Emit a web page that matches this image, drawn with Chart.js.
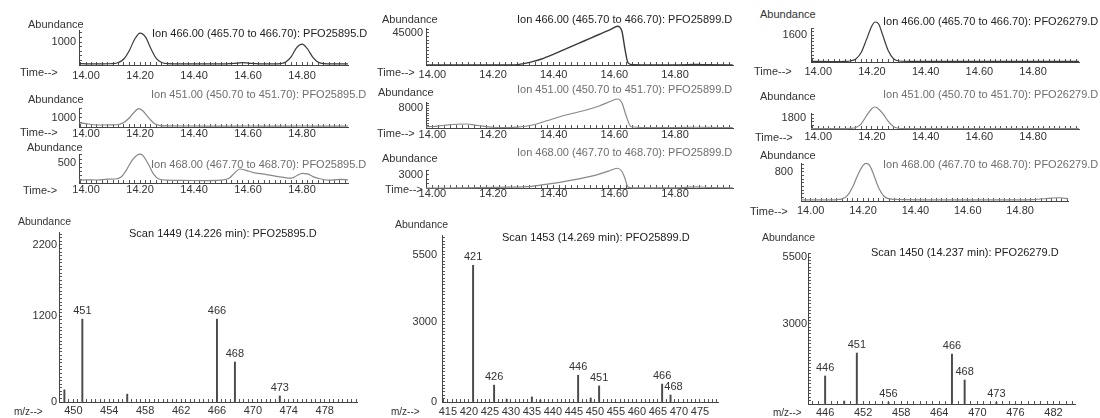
<!DOCTYPE html>
<html>
<head>
<meta charset="utf-8">
<script src="https://cdn.jsdelivr.net/npm/chart.js@4.4.0/dist/chart.umd.min.js"></script>
<style>
  body { margin: 0; background: #fff; width: 1100px; height: 418px; overflow: hidden; position: relative;
         font-family: "Liberation Sans", Arial, Helvetica, sans-serif; }
  canvas { position: absolute; }
  .lbl { position: absolute; white-space: nowrap; line-height: 1; font-size: 11px; color: #333; z-index: 2; }
</style>
</head>
<body>
<script>
// ---- data ----
const timeTicks = [14.00, 14.20, 14.40, 14.60, 14.80];

// PFO25895.D
const tA466 = [13.975, 14.00, 14.04, 14.08, 14.10, 14.12, 14.14, 14.16, 14.18, 14.20, 14.22, 14.24, 14.26, 14.28, 14.30, 14.36, 14.44, 14.52, 14.56, 14.58, 14.60, 14.64, 14.70, 14.72, 14.74, 14.76, 14.78, 14.80, 14.82, 14.84, 14.86, 14.88, 14.92, 14.97];
const yA466 = [60, 50, 45, 55, 60, 110, 260, 620, 1120, 1390, 1220, 720, 290, 110, 60, 50, 45, 50, 80, 100, 85, 50, 45, 60, 130, 360, 760, 910, 700, 330, 120, 60, 50, 45];
const tA451 = [13.975, 14.00, 14.02, 14.06, 14.10, 14.12, 14.14, 14.16, 14.18, 14.195, 14.21, 14.23, 14.25, 14.27, 14.30, 14.40, 14.50, 14.60, 14.70, 14.80, 14.90, 14.97];
const yA451 = [450, 380, 280, 220, 230, 280, 500, 1000, 1700, 2050, 1800, 1100, 450, 180, 120, 110, 100, 110, 100, 110, 100, 110];
const tA468 = [13.975, 14.00, 14.04, 14.08, 14.11, 14.13, 14.15, 14.17, 14.19, 14.20, 14.21, 14.23, 14.25, 14.27, 14.30, 14.36, 14.44, 14.50, 14.53, 14.55, 14.57, 14.59, 14.62, 14.66, 14.70, 14.74, 14.76, 14.78, 14.80, 14.82, 14.84, 14.87, 14.90, 14.94, 14.97];
const yA468 = [70, 80, 75, 95, 100, 150, 330, 560, 700, 720, 690, 480, 220, 100, 70, 65, 60, 70, 120, 250, 350, 320, 260, 220, 170, 130, 120, 180, 240, 230, 160, 100, 70, 90, 80];

// PFO25899.D
const tB466 = [13.979, 14.05, 14.10, 14.15, 14.20, 14.26, 14.28, 14.30, 14.33, 14.36, 14.40, 14.44, 14.48, 14.52, 14.56, 14.59, 14.61, 14.625, 14.635, 14.645, 14.66, 14.70, 14.80, 14.86, 14.88, 14.90, 14.99];
const yB466 = [0, 0, 100, 0, 100, 100, 400, 2000, 4800, 8400, 15200, 22600, 30000, 37500, 44900, 50500, 54500, 47000, 22000, 3000, 300, 100, 100, 600, 800, 300, 100];
const tB451 = [13.979, 14.00, 14.04, 14.08, 14.11, 14.15, 14.20, 14.25, 14.28, 14.33, 14.38, 14.42, 14.46, 14.51, 14.55, 14.59, 14.61, 14.625, 14.638, 14.655, 14.70, 14.80, 14.87, 14.95, 14.99];
const yB451 = [500, 600, 1100, 1500, 1600, 1000, 300, 200, 350, 1200, 3000, 4500, 5800, 7300, 8800, 10800, 11600, 10000, 5200, 500, 200, 200, 300, 200, 200];
const tB468 = [13.979, 14.05, 14.10, 14.15, 14.20, 14.25, 14.31, 14.36, 14.42, 14.46, 14.51, 14.55, 14.58, 14.61, 14.625, 14.635, 14.645, 14.66, 14.72, 14.80, 14.87, 14.92, 14.99];
const yB468 = [0, 0, 50, 100, 150, 200, 300, 700, 1300, 1800, 2500, 3200, 3900, 4550, 3800, 2200, 200, 50, 50, 50, 250, 100, 50];

// PFO26279.D
const tC466 = [13.973, 14.05, 14.10, 14.12, 14.14, 14.16, 14.18, 14.20, 14.212, 14.225, 14.24, 14.26, 14.28, 14.30, 14.35, 14.50, 14.70, 14.90, 14.971];
const yC466 = [40, 30, 40, 60, 180, 560, 1350, 2150, 2370, 2250, 1600, 700, 200, 60, 40, 35, 40, 35, 40];
const tC451 = [13.973, 14.05, 14.10, 14.12, 14.14, 14.16, 14.18, 14.20, 14.21, 14.22, 14.24, 14.26, 14.28, 14.30, 14.35, 14.50, 14.70, 14.90, 14.971];
const yC451 = [50, 50, 60, 90, 250, 850, 2200, 3350, 3600, 3450, 2550, 1300, 420, 120, 60, 50, 50, 60, 50];
const tC468 = [13.963, 14.05, 14.10, 14.12, 14.14, 14.16, 14.18, 14.20, 14.212, 14.225, 14.24, 14.26, 14.28, 14.30, 14.35, 14.50, 14.70, 14.85, 14.92, 14.95, 14.983];
const yC468 = [30, 30, 40, 60, 150, 380, 720, 980, 1040, 980, 740, 360, 130, 60, 40, 30, 30, 40, 80, 90, 60];

// mass spectra
const mzA = [449, 451, 456, 466, 468, 473];
const abA = [170, 1160, 110, 1160, 560, 85];
const peakLabA = [451, 466, 468, 473];
const mzTicksA = [450, 454, 458, 462, 466, 470, 474, 478];
const abTicksA = [0, 1200, 2200];

const mzB = [421, 426, 429, 435, 437, 446, 449, 451, 466, 468];
const abB = [5100, 630, 110, 190, 75, 1000, 150, 600, 670, 260];
const peakLabB = [421, 426, 446, 451, 466, 468];
const mzTicksB = [415, 420, 425, 430, 435, 440, 445, 450, 455, 460, 465, 470, 475];
const abTicksB = [0, 3000, 5500];

const mzC = [446, 449, 451, 456, 466, 468, 473];
const abC = [1050, 110, 1910, 60, 1870, 900, 60];
const peakLabC = [446, 451, 456, 466, 468, 473];
const mzTicksC = [446, 452, 458, 464, 470, 476, 482];
const abTicksC = [3000, 5500];

// ---- helpers ----
Chart.defaults.font.family = "'Liberation Sans', Arial, Helvetica, sans-serif";
Chart.defaults.font.size = 11;
Chart.defaults.color = '#333';

const DARK = '#222', GREY = '#6e6e6e';

function txt(x, cy, s, color, size) {
  const d = document.createElement('div');
  d.className = 'lbl';
  d.textContent = s;
  const fs = size || 11;
  d.style.fontSize = fs + 'px';
  d.style.left = x + 'px';
  d.style.top = (cy - fs / 2) + 'px';
  if (color) d.style.color = color;
  document.body.appendChild(d);
}

function isMajor(v, list) {
  return list.some(m => Math.abs(m - v) < 1e-6);
}

function ticksFrom(min, max, step, majors) {
  const out = [];
  const k0 = Math.ceil(min / step - 1e-9), k1 = Math.floor(max / step + 1e-9);
  for (let k = k0; k <= k1; k++) out.push(+(k * step).toFixed(6));
  majors.forEach(m => { if (m >= min && m <= max && !isMajor(m, out)) out.push(m); });
  return out.sort((a, b) => a - b);
}

const W = 50, H = 24, PT = 8, PR = 8;

function makeCanvas(box) {
  const cv = document.createElement('canvas');
  const w = box.ae - box.ax + W + PR, h = box.base - box.top + PT + H;
  cv.width = w; cv.height = h;
  cv.style.left = (box.ax - W) + 'px';
  cv.style.top = (box.top - PT) + 'px';
  cv.style.width = w + 'px'; cv.style.height = h + 'px';
  document.body.appendChild(cv);
  return cv;
}

function axisX(min, max, step, majors, pad, fmt) {
  return {
    type: 'linear', min: min, max: max, bounds: 'data', offset: false,
    grid: { drawOnChartArea: false, drawTicks: true, tickLength: -3, tickColor: '#555', tickWidth: 1, offset: false },
    border: { display: true, color: '#444', width: 1 },
    ticks: { autoSkip: false, maxRotation: 0, minRotation: 0, padding: pad, color: '#333',
             callback: v => isMajor(v, majors) ? fmt(v) : '' },
    afterBuildTicks: s => { s.ticks = ticksFrom(min, max, step, majors).map(value => ({ value })); },
    afterFit: s => { s.height = H; s.paddingLeft = 0; s.paddingRight = 0; s.paddingTop = 0; s.paddingBottom = 0; }
  };
}

function axisY(max, step, majors, pad) {
  return {
    type: 'linear', min: 0, max: max, bounds: 'data',
    grid: { drawOnChartArea: false, drawTicks: true, tickLength: -3, tickColor: '#555', tickWidth: 1 },
    border: { display: true, color: '#444', width: 1 },
    ticks: { autoSkip: false, padding: pad, color: '#333',
             callback: v => isMajor(v, majors) ? String(v) : '' },
    afterBuildTicks: s => { s.ticks = ticksFrom(0, max, step, majors).map(value => ({ value })); },
    afterFit: s => { s.width = W; s.paddingLeft = 0; s.paddingRight = 0; s.paddingTop = 0; s.paddingBottom = 0; }
  };
}

function chromatogram(box, t, y, yMajor, ystep, color, lw) {
  new Chart(makeCanvas(box), {
    type: 'line',
    data: { datasets: [{
      data: t.map((x, i) => ({ x: x, y: y[i] })),
      borderColor: color, borderWidth: lw || 1.2, pointRadius: 0, fill: false,
      cubicInterpolationMode: 'monotone', clip: false
    }] },
    options: {
      responsive: false, animation: false, events: [],
      layout: { padding: { left: 0, top: PT, right: PR, bottom: 0 } },
      plugins: { legend: { display: false }, tooltip: { enabled: false } },
      scales: {
        x: axisX(box.tmin, box.tmax, 0.02, timeTicks, box.xpad, v => v.toFixed(2)),
        y: axisY(box.ymax, ystep, yMajor, box.ypad)
      }
    }
  });
}

const peakLabels = {
  id: 'peakLabels',
  afterDatasetsDraw(chart, args, opts) {
    const ctx = chart.ctx;
    const meta = chart.getDatasetMeta(0);
    const raw = chart.data.datasets[0].data;
    ctx.save();
    ctx.font = "11px 'Liberation Sans', Arial, sans-serif";
    ctx.fillStyle = '#333';
    ctx.textAlign = 'center';
    ctx.textBaseline = 'middle';
    meta.data.forEach((el, i) => {
      const m = raw[i].x;
      if (opts.list.includes(m)) {
        const dx = (opts.dx && opts.dx[m]) || 0;
        ctx.fillText(String(m), el.x + dx, el.y - 8);
      }
    });
    ctx.restore();
  }
};

function spectrum(box, mz, ab, labels, mzTicks, abTicks, xstep, ystep, dx) {
  new Chart(makeCanvas(box), {
    type: 'bar',
    data: { datasets: [{
      data: mz.map((m, i) => ({ x: m, y: ab[i] })),
      backgroundColor: '#4a4a4a', borderWidth: 0, barThickness: 1.3
    }] },
    options: {
      responsive: false, animation: false, events: [],
      layout: { padding: { left: 0, top: PT, right: PR, bottom: 0 } },
      plugins: { legend: { display: false }, tooltip: { enabled: false }, peakLabels: { list: labels, dx: dx } },
      scales: {
        x: axisX(box.tmin, box.tmax, xstep, mzTicks, box.xpad, v => String(v)),
        y: axisY(box.ymax, ystep, abTicks, box.ypad)
      }
    },
    plugins: [peakLabels]
  });
}

// ---- column 1: PFO25895.D ----
chromatogram({ ax: 79, ae: 348, top: 30, base: 65, tmin: 13.974, tmax: 14.970, ymax: 1522, xpad: 7.4, ypad: 6 },
  tA466, yA466, [1000], 200, '#3a3a3a');
chromatogram({ ax: 79, ae: 348, top: 108, base: 127, tmin: 13.974, tmax: 14.970, ymax: 2111, xpad: 3.4, ypad: 6 },
  tA451, yA451, [1000], 500, '#888');
chromatogram({ ax: 79, ae: 348, top: 154, base: 183, tmin: 13.974, tmax: 14.970, ymax: 725, xpad: 3.8, ypad: 6 },
  tA468, yA468, [500], 100, '#888');
spectrum({ ax: 59, ae: 357, top: 232, base: 402, tmin: 448.4, tmax: 481.6, ymax: 2380, xpad: 5.4, ypad: 5 },
  mzA, abA, peakLabA, mzTicksA, abTicksA, 0.5, 50, {});

// ---- column 2: PFO25899.D ----
chromatogram({ ax: 426, ae: 733, top: 28, base: 65, tmin: 13.979, tmax: 14.991, ymax: 52000, xpad: 6.4, ypad: 6 },
  tB466, yB466, [45000], 5000, '#3a3a3a', 1.4);
chromatogram({ ax: 426, ae: 733, top: 102, base: 128, tmin: 13.979, tmax: 14.991, ymax: 10400, xpad: 3.4, ypad: 6 },
  tB451, yB451, [8000], 1000, '#888');
chromatogram({ ax: 426, ae: 733, top: 170, base: 188, tmin: 13.979, tmax: 14.991, ymax: 4150, xpad: 2, ypad: 6 },
  tB468, yB468, [3000], 1000, '#888');
spectrum({ ax: 442, ae: 718, top: 235, base: 402, tmin: 413.6, tmax: 479.3, ymax: 6230, xpad: 6.4, ypad: 8 },
  mzB, abB, peakLabB, mzTicksB, abTicksB, 1, 125, { 468: 3 });

// ---- column 3: PFO26279.D ----
chromatogram({ ax: 811, ae: 1079, top: 28, base: 62, tmin: 13.973, tmax: 14.971, ymax: 2015, xpad: 6.4, ypad: 7 },
  tC466, yC466, [1600], 200, '#3a3a3a');
chromatogram({ ax: 811, ae: 1079, top: 113, base: 129, tmin: 13.973, tmax: 14.971, ymax: 2620, xpad: 4.4, ypad: 8 },
  tC451, yC451, [1800], 600, '#888');
chromatogram({ ax: 801, ae: 1068, top: 163, base: 201, tmin: 13.963, tmax: 14.983, ymax: 1048, xpad: 6.4, ypad: 11 },
  tC468, yC468, [800], 100, '#888');
spectrum({ ax: 808, ae: 1075, top: 253, base: 404, tmin: 443.3, tmax: 485.4, ymax: 5660, xpad: 5.4, ypad: 4 },
  mzC, abC, peakLabC, mzTicksC, abTicksC, 1, 125, {});

// ---- text labels ----
txt(28, 24, 'Abundance'); txt(28, 99, 'Abundance'); txt(27, 147, 'Abundance');
txt(382, 19, 'Abundance'); txt(378, 92, 'Abundance'); txt(382, 158, 'Abundance');
txt(760, 14, 'Abundance'); txt(760, 96, 'Abundance'); txt(760, 155, 'Abundance');
txt(18, 221, 'Abundance', '#333', 10.5); txt(395, 224, 'Abundance', '#333', 10.5); txt(762, 237, 'Abundance', '#333', 10.5);

txt(20, 72, 'Time-->'); txt(20, 132, 'Time-->'); txt(23, 190, 'Time->');
txt(377, 72, 'Time-->'); txt(377, 133, 'Time-->'); txt(385, 189, 'Time-->');
txt(754, 71, 'Time-->'); txt(755, 137, 'Time-->'); txt(750, 211, 'Time-->');

txt(14, 412, 'm/z-->', '#333', 10); txt(391, 412, 'm/z-->', '#333', 10); txt(773, 413, 'm/z-->', '#333', 10);

txt(152, 33, 'Ion 466.00 (465.70 to 466.70): PFO25895.D', DARK);
txt(151, 94, 'Ion 451.00 (450.70 to 451.70): PFO25895.D', GREY);
txt(151, 164, 'Ion 468.00 (467.70 to 468.70): PFO25895.D', GREY);
txt(517, 19, 'Ion 466.00 (465.70 to 466.70): PFO25899.D', DARK);
txt(517, 89, 'Ion 451.00 (450.70 to 451.70): PFO25899.D', GREY);
txt(517, 152, 'Ion 468.00 (467.70 to 468.70): PFO25899.D', GREY);
txt(883, 21, 'Ion 466.00 (465.70 to 466.70): PFO26279.D', DARK);
txt(883, 94, 'Ion 451.00 (450.70 to 451.70): PFO26279.D', GREY);
txt(883, 164, 'Ion 468.00 (467.70 to 468.70): PFO26279.D', GREY);

txt(129, 233, 'Scan 1449 (14.226 min): PFO25895.D', DARK);
txt(502, 237, 'Scan 1453 (14.269 min): PFO25899.D', DARK);
txt(871, 252, 'Scan 1450 (14.237 min): PFO26279.D', DARK);
</script>
</body>
</html>
